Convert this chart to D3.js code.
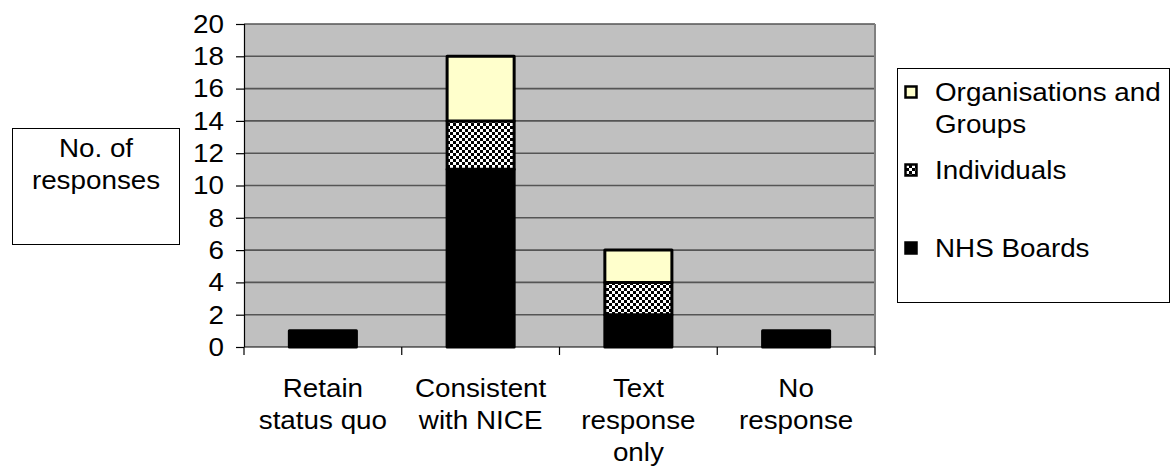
<!DOCTYPE html>
<html>
<head>
<meta charset="utf-8">
<script src="https://cdn.jsdelivr.net/npm/d3@7/dist/d3.min.js"></script>
<style>
  html, body { margin: 0; padding: 0; background: #fff; }
  svg { display: block; font-family: "Liberation Sans", Arial, sans-serif; }
</style>
</head>
<body>
<svg id="chart" width="1171" height="473"></svg>
<script>
// Responses by category, stacked by respondent type
const categories = [
  ["Retain", "status quo"],
  ["Consistent", "with NICE"],
  ["Text", "response", "only"],
  ["No", "response"]
];
const nhsBoards     = [1, 11, 2, 1];
const individuals   = [0, 3, 2, 0];
const organisations = [0, 4, 2, 0];
const seriesNames = ["NHS Boards", "Individuals", "Organisations and Groups"];
const yTicks = [0, 2, 4, 6, 8, 10, 12, 14, 16, 18, 20];

const svg = d3.select("#chart");
const fontSize = 26;
const stretch = 1.07;   // slightly wide lettering

// checker fill for the Individuals segment
const defs = svg.append("defs");
const pat = defs.append("pattern")
  .attr("id", "checker")
  .attr("patternUnits", "userSpaceOnUse")
  .attr("width", 6).attr("height", 6);
pat.append("rect").attr("width", 6).attr("height", 6).attr("fill", "#fff");
pat.append("rect").attr("x", 0).attr("y", 0).attr("width", 3).attr("height", 3).attr("fill", "#000");
pat.append("rect").attr("x", 3).attr("y", 3).attr("width", 3).attr("height", 3).attr("fill", "#000");

const fills = {
  "NHS Boards": "#000",
  "Individuals": "url(#checker)",
  "Organisations and Groups": "#ffffcc"
};

const plot = { left: 244, right: 875, top: 24, bottom: 347 };

const keys = categories.map((c, i) => i);
const x = d3.scaleBand()
  .domain(keys)
  .range([plot.left, plot.right])
  .paddingInner(0.575)
  .paddingOuter(0.2875);

const y = d3.scaleLinear().domain([0, 20]).range([plot.bottom, plot.top]);

// multi-line text block anchored at (cx, baseline)
function textBlock(g, cx, baseY, lines, anchor) {
  const t = g.append("text")
    .attr("transform", `translate(${cx},${baseY}) scale(${stretch},1)`)
    .attr("font-size", fontSize)
    .attr("text-anchor", anchor)
    .attr("fill", "#000");
  lines.forEach((ln, j) => {
    t.append("tspan").attr("x", 0).attr("y", j * 32).text(ln);
  });
  return t;
}

// plot background
svg.append("rect")
  .attr("x", plot.left).attr("y", plot.top)
  .attr("width", plot.right - plot.left).attr("height", plot.bottom - plot.top)
  .attr("fill", "#c0c0c0");

// gridlines
svg.append("g")
  .selectAll("line")
  .data(yTicks.filter(t => t > 0))
  .join("line")
  .attr("x1", plot.left).attr("x2", plot.right)
  .attr("y1", d => y(d)).attr("y2", d => y(d))
  .attr("stroke", "#555").attr("stroke-width", 1.6);

// right frame of plot area
svg.append("line")
  .attr("x1", plot.right).attr("x2", plot.right)
  .attr("y1", plot.top).attr("y2", plot.bottom)
  .attr("stroke", "#808080").attr("stroke-width", 2);

// stacked bars
const rows = keys.map(i => ({
  key: i,
  "NHS Boards": nhsBoards[i],
  "Individuals": individuals[i],
  "Organisations and Groups": organisations[i]
}));
const stacked = d3.stack().keys(seriesNames)(rows);

const barG = svg.append("g");
stacked.forEach(layer => {
  barG.append("g")
    .selectAll("rect")
    .data(layer.filter(d => d[1] - d[0] > 0))
    .join("rect")
    .attr("x", d => x(d.data.key))
    .attr("width", x.bandwidth())
    .attr("y", d => y(d[1]))
    .attr("height", d => y(d[0]) - y(d[1]))
    .attr("fill", fills[layer.key])
    .attr("stroke", "#000")
    .attr("stroke-width", 3)
    .attr("stroke-linejoin", "round");
});

// y axis
const tickPad = 12;
const yAxis = svg.append("g")
  .attr("transform", `translate(${plot.left},0)`)
  .call(d3.axisLeft(y).tickValues(yTicks).tickSize(8).tickPadding(tickPad).tickFormat(d3.format("d")));
yAxis.select(".domain").attr("stroke", "#000").attr("stroke-width", 1.2).attr("d", `M0.5,${plot.top}V${plot.bottom}`);
yAxis.selectAll(".tick line").attr("stroke", "#000").attr("stroke-width", 1.2);
yAxis.selectAll(".tick text")
  .attr("font-size", fontSize)
  .attr("font-family", "Liberation Sans, Arial, sans-serif")
  .attr("fill", "#000")
  .attr("x", -(tickPad + 8) / stretch)
  .attr("transform", `scale(${stretch},1)`);

// x axis line and category boundary ticks
const xAxisG = svg.append("g");
xAxisG.append("line")
  .attr("x1", plot.left).attr("x2", plot.right)
  .attr("y1", plot.bottom).attr("y2", plot.bottom)
  .attr("stroke", "#000").attr("stroke-width", 1.2);
const boundaries = keys.map(k => x(k) - x.step() * x.paddingInner() / 2).concat([plot.right]);
xAxisG.selectAll("line.tk")
  .data(boundaries)
  .join("line").attr("class", "tk")
  .attr("x1", d => d).attr("x2", d => d)
  .attr("y1", plot.bottom).attr("y2", plot.bottom + 8)
  .attr("stroke", "#000").attr("stroke-width", 1.2);

// category labels
const lblG = svg.append("g");
categories.forEach((lines, i) => {
  textBlock(lblG, x(i) + x.bandwidth() / 2, 397, lines, "middle");
});

// y axis title box
svg.append("rect")
  .attr("x", 12.5).attr("y", 128.5)
  .attr("width", 167).attr("height", 116)
  .attr("fill", "#fff").attr("stroke", "#000").attr("stroke-width", 1);
textBlock(svg, 96, 157, ["No. of", "responses"], "middle");

// legend
svg.append("rect")
  .attr("x", 897.5).attr("y", 68.5)
  .attr("width", 272).attr("height", 234)
  .attr("fill", "#fff").attr("stroke", "#000").attr("stroke-width", 1);

const legendItems = [
  { key: "Organisations and Groups", lines: ["Organisations and", "Groups"], cy: 92 },
  { key: "Individuals", lines: ["Individuals"], cy: 170 },
  { key: "NHS Boards", lines: ["NHS Boards"], cy: 248 }
];
const lg = svg.append("g");
legendItems.forEach(item => {
  lg.append("rect")
    .attr("x", 905.5).attr("y", item.cy - 5.5)
    .attr("width", 11).attr("height", 11)
    .attr("fill", fills[item.key])
    .attr("stroke", "#000").attr("stroke-width", 2.5);
  textBlock(lg, 935, item.cy + 9, item.lines, "start");
});
</script>
</body>
</html>
